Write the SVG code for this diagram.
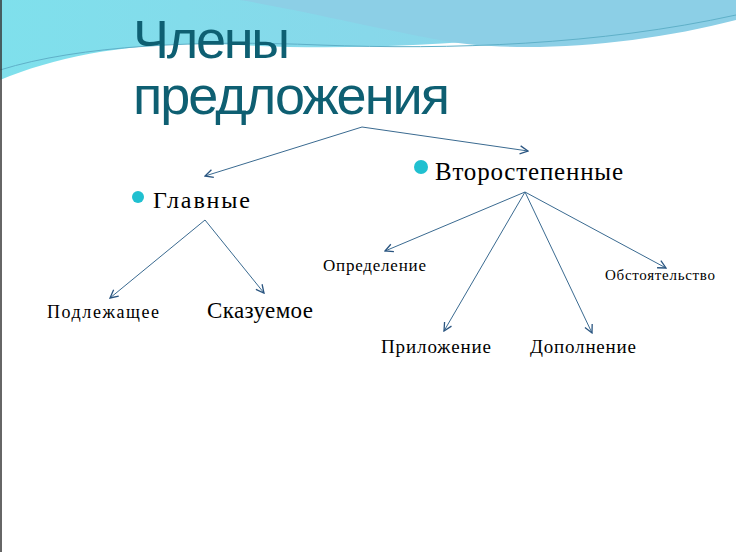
<svg xmlns="http://www.w3.org/2000/svg" width="736" height="552" viewBox="0 0 736 552">
<defs>
<marker id="ah" markerWidth="10" markerHeight="10" refX="9" refY="5" orient="auto" markerUnits="userSpaceOnUse"><path d="M1,1 L9,5 L1,9" fill="none" stroke="#2a5580" stroke-width="1.3"/></marker>
<linearGradient id="g1" x1="0" y1="0" x2="1" y2="0"><stop offset="0" stop-color="#7fe0ec"/><stop offset="1" stop-color="#8fd0e8"/></linearGradient>
</defs>
<style>
.c{stroke:#3a6a90;stroke-width:1;fill:none;marker-end:url(#ah)}
.t{font-family:"Liberation Serif",serif;fill:#000}
.ti{font-family:"Liberation Sans",sans-serif;fill:#0e5f72;font-size:54px}
.b{fill:#20c0d0}
</style>
<rect width="736" height="552" fill="#fff"/>
<path d="M0,0 H736 V10 C600,30 420,55 240,45 C140,40 60,55 0,80 Z" fill="url(#g1)"/>
<path d="M240,0 H736 V20 C640,45 520,55 440,40 C360,25 300,10 240,0 Z" fill="#8ccfe6"/>
<path d="M0,70 C80,45 200,40 320,45 C450,50 600,45 736,15" fill="none" stroke="#5fb0c8" stroke-width="1"/>
<path d="M0,90 C20,70 60,60 120,55" fill="none" stroke="#fff" stroke-width="3"/>
<line x1="1" y1="0" x2="1" y2="552" stroke="#333" stroke-width="1.5"/>
<g id="title"><text class="ti" x="133" y="58" textLength="157">Члены</text><text class="ti" x="133" y="114" textLength="317">предложения</text></g>
<g id="glavnye"><circle class="b" cx="138" cy="197" r="6"/><text class="t" x="153" y="208" font-size="24" textLength="97">Главные</text></g>
<g id="vtor"><circle class="b" cx="421" cy="167" r="7"/><text class="t" x="435" y="180" font-size="25" textLength="188">Второстепенные</text></g>
<g id="podl"><text class="t" x="47" y="318" font-size="18" textLength="112">Подлежащее</text></g>
<g id="skaz"><text class="t" x="207" y="318" font-size="23" textLength="106">Сказуемое</text></g>
<g id="opr"><text class="t" x="323" y="271" font-size="17" textLength="103">Определение</text></g>
<g id="obst"><text class="t" x="605" y="280" font-size="15" textLength="110">Обстоятельство</text></g>
<g id="pril"><text class="t" x="381" y="353" font-size="19" textLength="110">Приложение</text></g>
<g id="dop"><text class="t" x="530" y="353" font-size="19" textLength="106">Дополнение</text></g>
<g id="connectors">
<line class="c" x1="362" y1="127" x2="205" y2="176"/>
<line class="c" x1="362" y1="127" x2="528" y2="151"/>
<line class="c" x1="205" y1="220" x2="110" y2="298"/>
<line class="c" x1="205" y1="220" x2="264" y2="293"/>
<line class="c" x1="525" y1="192" x2="385" y2="251"/>
<line class="c" x1="525" y1="192" x2="444" y2="331"/>
<line class="c" x1="525" y1="192" x2="592" y2="333"/>
<line class="c" x1="525" y1="192" x2="666" y2="268"/>
</g>
</svg>
